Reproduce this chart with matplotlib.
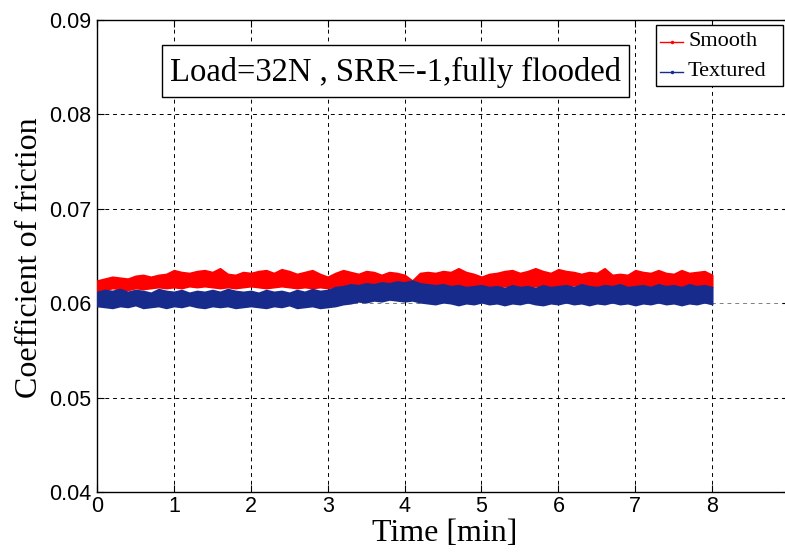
import matplotlib
matplotlib.use("Agg")
import matplotlib.pyplot as plt
from matplotlib.lines import Line2D
from matplotlib.patches import Rectangle
import numpy as np

# ---------------- data (x1e-4) ----------------
time_min = [i / 10 for i in range(81)]  # 0.0 ... 8.0 min

smooth_upper = [624, 626, 628, 627, 626, 629, 630, 628, 630, 631,
                635, 633, 632, 634, 635, 633, 637, 631, 630, 633,
                632, 634, 635, 632, 636, 634, 631, 633, 635, 631,
                628, 632, 635, 633, 631, 634, 633, 630, 633, 632,
                630, 624, 632, 633, 632, 634, 633, 637, 633, 631,
                628, 631, 632, 634, 635, 632, 634, 637, 634, 632,
                636, 634, 633, 631, 633, 632, 637, 630, 631, 630,
                635, 633, 632, 635, 632, 631, 635, 632, 633, 634, 630]
smooth_lower = [612, 614, 616, 615, 614, 616, 615, 616, 617, 616,
                617, 616, 618, 617, 618, 617, 616, 617, 616, 617,
                618, 617, 616, 617, 618, 617, 616, 617, 616, 617,
                616, 618, 619, 618, 619, 618, 619, 620, 619, 618,
                619, 618, 619, 618, 617, 618, 619, 618, 617, 618,
                619, 618, 617, 618, 619, 618, 617, 618, 619, 618,
                617, 618, 619, 618, 617, 618, 619, 618, 617, 618,
                619, 618, 617, 618, 619, 618, 617, 618, 619, 618, 617]
textured_upper = [612, 614, 613, 615, 612, 614, 613, 611, 615, 613,
                  612, 614, 611, 613, 612, 614, 612, 615, 613, 612,
                  613, 611, 614, 612, 613, 611, 614, 612, 615, 613,
                  614, 617, 618, 620, 619, 621, 620, 622, 621, 623,
                  622, 624, 621, 620, 619, 620, 618, 619, 617, 618,
                  619, 617, 618, 616, 619, 617, 618, 616, 619, 617,
                  618, 619, 617, 620, 618, 617, 619, 618, 620, 617,
                  618, 619, 617, 620, 618, 619, 617, 620, 618, 619, 617]
textured_lower = [597, 596, 595, 597, 596, 598, 595, 596, 597, 595,
                  597, 596, 598, 596, 595, 597, 596, 597, 595, 596,
                  597, 596, 595, 597, 596, 598, 595, 596, 597, 595,
                  596, 597, 599, 600, 602, 601, 603, 602, 604, 603,
                  602, 603, 601, 600, 599, 601, 600, 598, 600, 599,
                  601, 599, 600, 598, 600, 599, 601, 599, 598, 600,
                  599, 601, 599, 600, 598, 600, 599, 601, 599, 600,
                  598, 600, 599, 601, 599, 600, 598, 600, 599, 601, 599]

series_labels = ["Smooth", "Textured"]
x_ticks = [0, 1, 2, 3, 4, 5, 6, 7, 8]
y_ticks = [0.04, 0.05, 0.06, 0.07, 0.08, 0.09]
annotation = "Load=32N , SRR=-1,fully flooded"

# ---------------- styling ----------------
RED = "#FF0000"
BLUE = "#172B8C"
SERIF = ["Liberation Serif", "DejaVu Serif"]
SANS = ["Liberation Sans", "DejaVu Sans"]

W, H = 785, 552
fig = plt.figure(figsize=(W / 100, H / 100), dpi=100)
px_per_min = 76.9
ax = fig.add_axes([97 / W, (H - 492) / H, 9 * px_per_min / W, 472 / H])

t = np.array(time_min)
s_up = np.array(smooth_upper) * 1e-4
s_lo = np.array(smooth_lower) * 1e-4
b_up = np.array(textured_upper) * 1e-4
b_lo = np.array(textured_lower) * 1e-4

ax.fill_between(t, s_lo, s_up, color=RED, lw=1.2, edgecolor=RED, zorder=3)
ax.fill_between(t, b_lo, b_up, color=BLUE, lw=1.2, edgecolor=BLUE, zorder=4)

ax.set_xlim(0, 9)
ax.set_ylim(0.04, 0.09)
ax.set_xticks(x_ticks)
ax.set_xticklabels([str(v) for v in x_ticks])
ax.set_yticks(y_ticks)
ax.set_yticklabels([f"{v:.2f}" for v in y_ticks])

ax.tick_params(direction="in", length=5, width=0.8, top=True, right=True,
               labelsize=15.5)
ax.tick_params(axis="x", pad=3)
ax.tick_params(axis="y", pad=4)
for lab in ax.get_xticklabels() + ax.get_yticklabels():
    lab.set_family(SANS)

ax.set_axisbelow(True)
ax.grid(True, color="black", linestyle=(0, (4, 4)), linewidth=0.7)
ax.yaxis.get_gridlines()[2].set_color("#808080")

for sp in ax.spines.values():
    sp.set_linewidth(1.0)

ax.set_xlabel("Time [min]", fontsize=23, family=SERIF)
ax.xaxis.set_label_coords(0.503, -0.058)
ax.set_ylabel("Coefficient of friction", fontsize=23, family=SERIF)
ax.yaxis.set_label_coords(-0.076, 0.497)

# annotation box
def fx(px):
    return px / W

def fy(py):
    return 1 - py / H

fig.patches.append(Rectangle((fx(162), fy(97)), fx(629) - fx(162), fy(45) - fy(97),
                             transform=fig.transFigure, fc="white", ec="black",
                             lw=1.0, zorder=10))
fig.text(fx(395), fy(72), annotation, ha="center", va="center",
         fontsize=23.5, family=SERIF, zorder=11)

# legend (drawn in figure pixels)
fig.patches.append(Rectangle((fx(656), fy(86)), fx(783) - fx(656), fy(25) - fy(86),
                             transform=fig.transFigure, fc="white", ec="black",
                             lw=1.0, zorder=10))
for row, (lab, col) in enumerate(zip(series_labels, [RED, BLUE])):
    yy = fy(42 + 30 * row)
    fig.add_artist(Line2D([fx(660), fx(683)], [yy, yy], color=col, lw=1.0,
                          transform=fig.transFigure, zorder=11))
    fig.add_artist(Line2D([fx(671.5)], [yy], color=col, marker=".", markersize=3,
                          transform=fig.transFigure, zorder=11))
    fig.text(fx(688), yy, lab, ha="left", va="center", fontsize=16,
             family=SERIF, zorder=11)

fig.savefig("out.png", dpi=100)
